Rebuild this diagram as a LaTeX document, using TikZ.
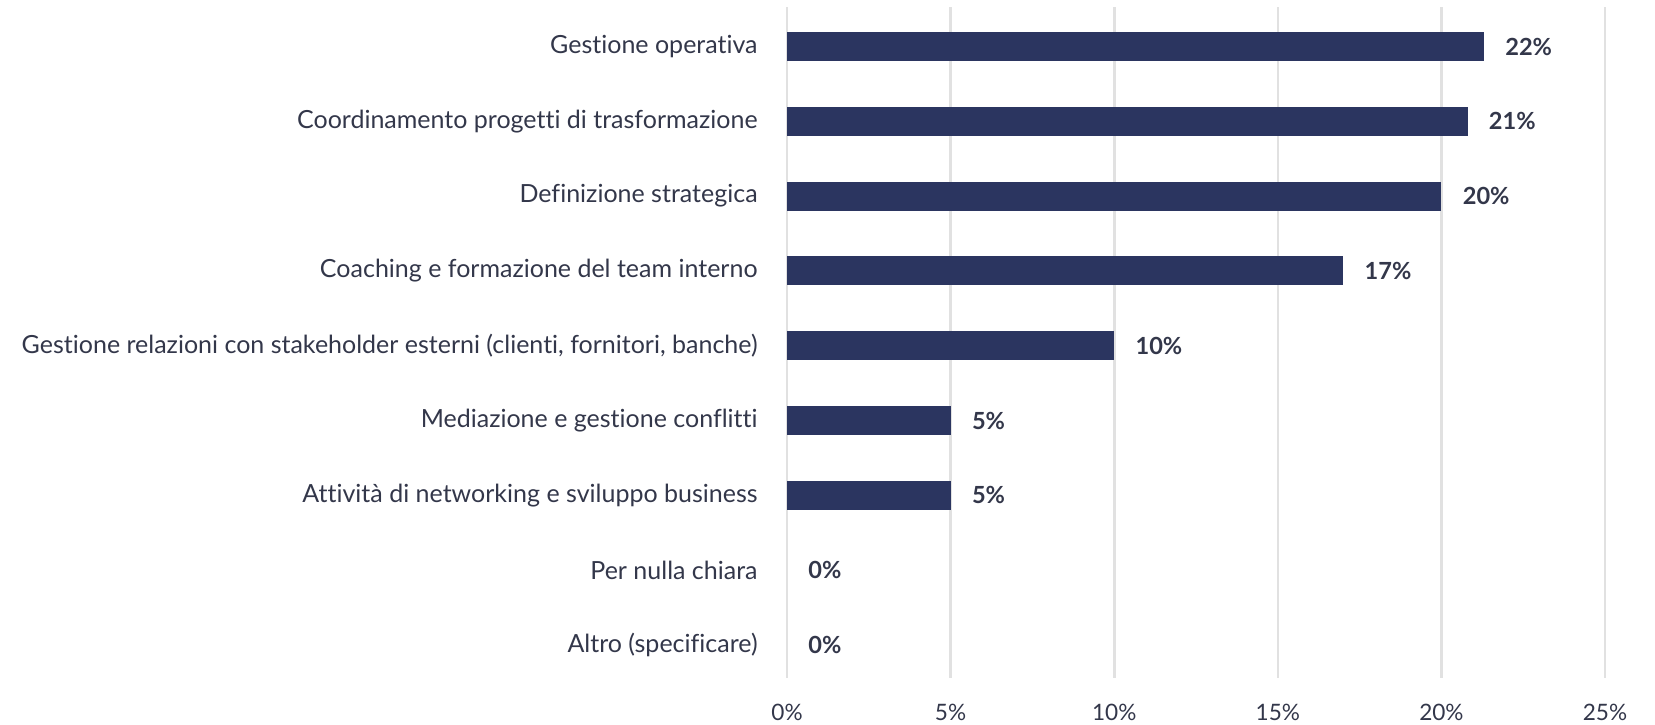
\documentclass[tikz,border=0pt]{standalone}
\usepackage{fontspec}
\setmainfont{Lato}[Ligatures=NoCommon]
\usetikzlibrary{positioning}
\definecolor{barblue}{HTML}{2B3560}
\definecolor{inkgray}{HTML}{33374A}
\definecolor{gridgray}{HTML}{E1E1E1}
\tikzset{
	catlabel/.style={anchor=east, text=inkgray, font=\fontsize{12.5}{14}\selectfont},
	vallabel/.style={anchor=west, text=inkgray, font=\bfseries\fontsize{11.8}{14}\selectfont},
	ticklabel/.style={text=inkgray, font=\fontsize{11.3}{13}\selectfont},
	gridline/.style={gridgray, line width=1.3pt}
}
\begin{document}
\begin{tikzpicture}
	[x=0.5pt,y=-0.5pt,every node/.style={inner sep=0pt}]
	\useasboundingbox (0,0) rectangle (1655,724);
	
	% vertical grid and axis labels
	\foreach \p in {0,5,10,15,20,25} {
		\coordinate (gt\p) at (787+32.72*\p,7);
		\coordinate (gb\p) at (787+32.72*\p,678);
		\draw[gridline] (gt\p) -- (gb\p);
		\node[ticklabel] (tick\p) at (787+32.72*\p,712) {\p\%};
	}
	
	% bars
	\foreach \i/\v/\t/\lab in {1/21.3/22/{Gestione operativa},
		2/20.8/21/{Coordinamento progetti di trasformazione},
		3/20.0/20/{Definizione strategica},
		4/17.0/17/{Coaching e formazione del team interno},
		5/10.0/10/{Gestione relazioni con stakeholder esterni (clienti, fornitori, banche)},
		6/5.0/5/{Mediazione e gestione conflitti},
		7/5.0/5/{Attività di networking e sviluppo business},
		8/0/0/{Per nulla chiara},
		9/0/0/{Altro (specificare)}} {
		\node[catlabel] (cat\i) at (758,{46.5+74.8*(\i-1)}) {\lab};
		\ifdim\v pt>0pt
			\fill[barblue] (787,{46.5+74.8*(\i-1)-14.5}) rectangle ({787+32.72*\v},{46.5+74.8*(\i-1)+14.5});
		\fi
		\node[vallabel] (val\i) at ({787+32.72*\v+21},{46.5+74.8*(\i-1)}) {\t\%};
	}
\end{tikzpicture}
\end{document}
